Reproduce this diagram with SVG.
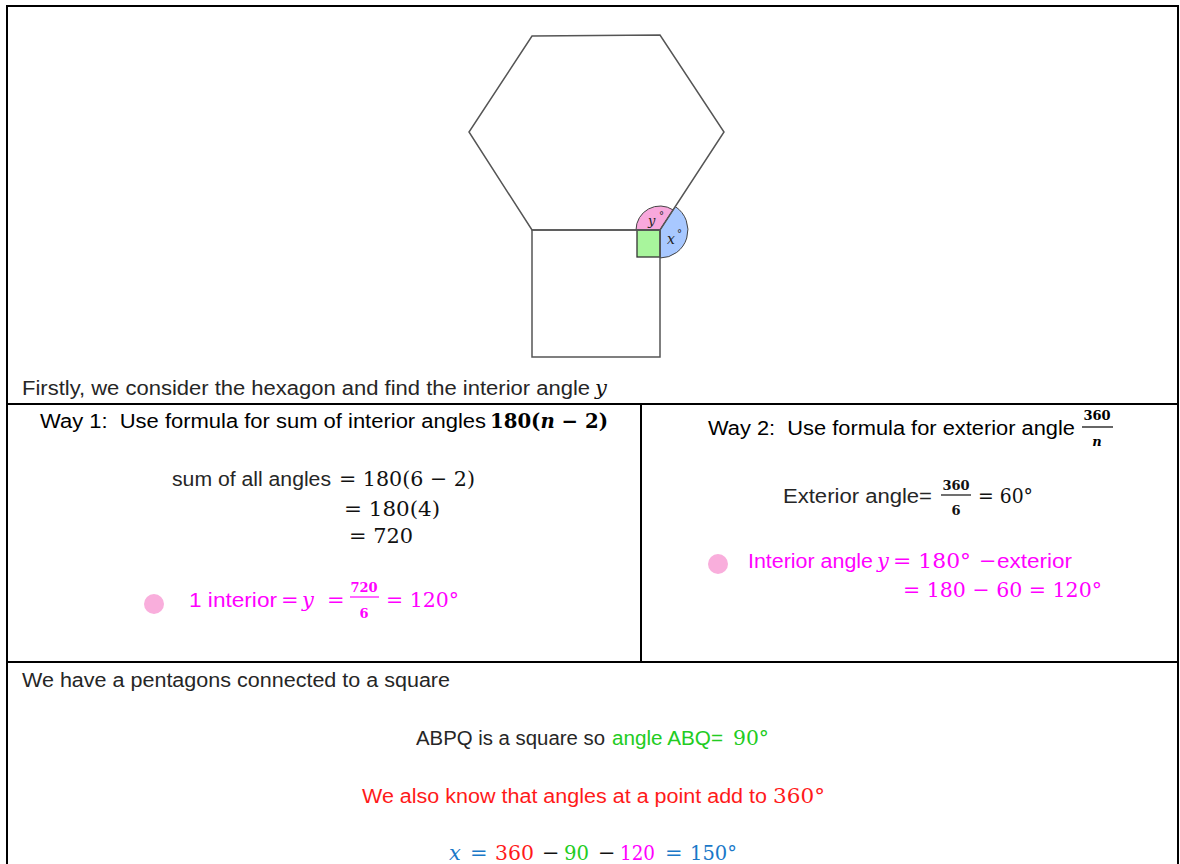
<svg xmlns="http://www.w3.org/2000/svg" width="1180" height="864" viewBox="0 0 1180 864">
<style>
.sans{font-family:"Liberation Sans","DejaVu Sans",sans-serif;font-size:20px;fill:#262626}
.hd{font-family:"Liberation Sans","DejaVu Sans",sans-serif;font-size:20px;fill:#000}
.m{font-family:"DejaVu Serif","Liberation Serif",serif;font-size:21px;fill:#111}
.mi{font-family:"DejaVu Serif","Liberation Serif",serif;font-size:21px;font-style:italic}
.fr{font-family:"DejaVu Serif","Liberation Serif",serif;font-size:13px;text-anchor:middle;font-weight:bold}
.mag{fill:#ff00ff}
.red{fill:#ff1a1a}
.grn{fill:#22cc22}
.blu{fill:#1a78c8}
.dot{fill:#f9aedc}
.shape{fill:none;stroke:#555;stroke-width:1.5}
.grid{stroke:#000;stroke-width:2;fill:none}
.lbl{font-family:"DejaVu Serif","Liberation Serif",serif;font-style:italic;fill:#222}
</style>
<rect width="1180" height="864" fill="#fff"/>
<g id="table">
<path class="grid" d="M7,870 L7,6 L1178,6 L1178,870"/>
<line class="grid" x1="7" y1="404" x2="1178" y2="404"/>
<line class="grid" x1="641" y1="404" x2="641" y2="662"/>
<line class="grid" x1="7" y1="662" x2="1178" y2="662"/>
</g>
<g id="figure">
<path d="M660,230 L636,230 A24,24 0 0,1 673.1,209.9 Z" fill="#f8a8dc" stroke="#444" stroke-width="1"/>
<path d="M660,230 L675.3,206.6 A28,28 0 0,1 660,258 Z" fill="#a8c8ff" stroke="#444" stroke-width="1"/>
<rect x="637" y="230" width="23" height="27" fill="#a8f59c" stroke="#333" stroke-width="1.3"/>
<path class="shape" d="M532,36 L660,35 L724,132 L660,230 L532,230 L469,132 Z"/>
<rect class="shape" x="532" y="230" width="128" height="127"/>
<text class="lbl" x="648" y="225" font-size="13">y</text>
<text x="659" y="219" font-family="DejaVu Sans, sans-serif" font-size="10" fill="#222">°</text>
<text class="lbl" x="667" y="244" font-size="14">x</text>
<text x="677" y="237" font-family="DejaVu Sans, sans-serif" font-size="10" fill="#222">°</text>
</g>
<g id="intro">
<text class="sans" x="22" y="395" textLength="568" lengthAdjust="spacingAndGlyphs">Firstly, we consider the hexagon and find the interior angle</text>
<text class="mi" x="595" y="395" fill="#111">y</text>
</g>
<g id="way1">
<text class="hd" x="40" y="428" textLength="446" lengthAdjust="spacingAndGlyphs">Way 1:&#160; Use formula for sum of interior angles</text>
<text x="490" y="428" textLength="118" lengthAdjust="spacingAndGlyphs" style="font-family:'DejaVu Serif',serif;font-size:20px;font-weight:bold;fill:#000">180(<tspan font-style="italic">n</tspan> − 2)</text>
<text class="sans" x="172" y="486" textLength="159" lengthAdjust="spacingAndGlyphs">sum of all angles</text>
<text class="m" x="339" y="486" textLength="136" lengthAdjust="spacingAndGlyphs">= 180(6 − 2)</text>
<text class="m" x="344" y="516" textLength="96" lengthAdjust="spacingAndGlyphs">= 180(4)</text>
<text class="m" x="349" y="543" textLength="64" lengthAdjust="spacingAndGlyphs">= 720</text>
<circle class="dot" cx="154" cy="604" r="10"/>
<text class="sans mag" x="189" y="607" textLength="88" lengthAdjust="spacingAndGlyphs">1 interior</text>
<text class="m mag" x="281" y="607">=</text>
<text class="mi mag" x="302" y="607">y</text>
<text class="m mag" x="327" y="607">=</text>
<text class="fr mag" x="364" y="592">720</text>
<line x1="350" y1="597" x2="379" y2="597" stroke="#ff00ff" stroke-width="1.2"/>
<text class="fr mag" x="364" y="618">6</text>
<text class="m mag" x="386" y="607" textLength="73" lengthAdjust="spacingAndGlyphs">= 120°</text>
</g>
<g id="way2">
<text class="hd" x="708" y="435" textLength="367" lengthAdjust="spacingAndGlyphs">Way 2:&#160; Use formula for exterior angle</text>
<text class="fr" x="1097" y="420" fill="#000">360</text>
<line x1="1082" y1="427" x2="1113" y2="427" stroke="#000" stroke-width="1.2"/>
<text class="fr" x="1097" y="446" font-style="italic" fill="#000">n</text>
<text class="sans" x="783" y="503" textLength="149" lengthAdjust="spacingAndGlyphs">Exterior angle=</text>
<text class="fr" x="956" y="490" fill="#111">360</text>
<line x1="941" y1="495" x2="971" y2="495" stroke="#111" stroke-width="1.2"/>
<text class="fr" x="956" y="515" fill="#111">6</text>
<text class="m" x="978" y="503" textLength="55" lengthAdjust="spacingAndGlyphs">= 60°</text>
<circle class="dot" cx="718" cy="564" r="10"/>
<text class="sans mag" x="748" y="568" textLength="125" lengthAdjust="spacingAndGlyphs">Interior angle</text>
<text class="mi mag" x="877" y="568">y</text>
<text class="m mag" x="893" y="568" textLength="78" lengthAdjust="spacingAndGlyphs">= 180°</text>
<text class="m mag" x="979" y="568">−</text>
<text class="sans mag" x="997" y="568" textLength="75" lengthAdjust="spacingAndGlyphs">exterior</text>
<text class="m mag" x="903" y="597" textLength="199" lengthAdjust="spacingAndGlyphs">= 180 − 60 = 120°</text>
</g>
<g id="part2">
<text class="sans" x="22" y="687" textLength="428" lengthAdjust="spacingAndGlyphs">We have a pentagons connected to a square</text>
<text class="sans" x="416" y="745" textLength="189" lengthAdjust="spacingAndGlyphs">ABPQ is a square so</text>
<text class="sans grn" x="612" y="745" textLength="111" lengthAdjust="spacingAndGlyphs">angle ABQ=</text>
<text class="m grn" x="733" y="745" textLength="36" lengthAdjust="spacingAndGlyphs">90°</text>
<text class="sans red" x="362" y="803" textLength="405" lengthAdjust="spacingAndGlyphs">We also know that angles at a point add to</text>
<text class="m red" x="773" y="803" textLength="52" lengthAdjust="spacingAndGlyphs">360°</text>
<text class="mi blu" x="449" y="860">x</text>
<text class="m blu" x="470" y="860">=</text>
<text class="m red" x="495" y="860" textLength="39" lengthAdjust="spacingAndGlyphs">360</text>
<text class="m" x="542" y="860">−</text>
<text class="m grn" x="564" y="860" textLength="25" lengthAdjust="spacingAndGlyphs">90</text>
<text class="m" x="598" y="860">−</text>
<text class="m mag" x="620" y="860" textLength="35" lengthAdjust="spacingAndGlyphs">120</text>
<text class="m blu" x="665" y="860">=</text>
<text class="m blu" x="690" y="860" textLength="47" lengthAdjust="spacingAndGlyphs">150°</text>
</g>
</svg>
